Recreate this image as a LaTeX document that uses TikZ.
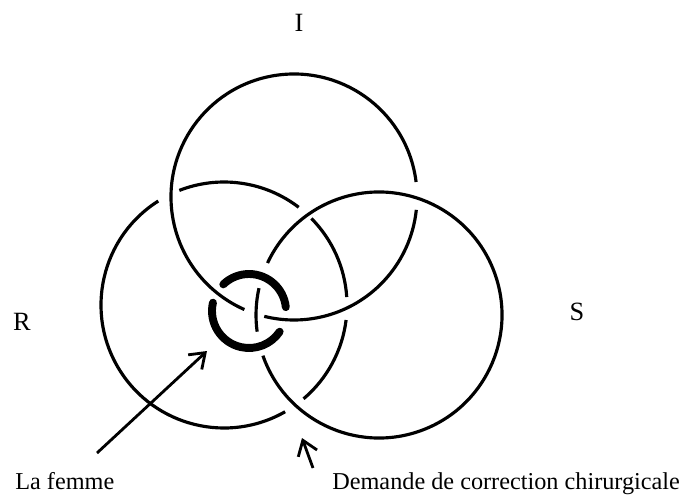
\documentclass[tikz,border=0pt]{standalone}
\usepackage{fontspec}
\setmainfont{Liberation Serif}
\usetikzlibrary{arrows.meta}

\begin{document}
\begin{tikzpicture}[x=0.02cm, y=0.02cm,
  every node/.style={font=\fontsize{13.8}{16}\selectfont, inner sep=0pt},
  letter/.style={font=\fontsize{15}{17}\selectfont},
  strand/.style={line width=1.8pt},
  ringline/.style={line width=4.5pt, line cap=round},
  pointer/.style={line width=1.6pt, -{Straight Barb[length=2.8mm,width=4mm]}}]
\useasboundingbox (0,0) rectangle (686,494);
% centres of the three rings and the knot
\coordinate (cI) at (294,297);
\coordinate (cR) at (224,189);
\coordinate (cS) at (379,179);
\coordinate (cK) at (249,183);
% R: under I and under S
\draw[strand] ([shift={(3.7:123)}]cR) arc[start angle=3.7, end angle=44.7, radius=123];
\draw[strand] ([shift={(52.6:123)}]cR) arc[start angle=52.6, end angle=111.3, radius=123];
\draw[strand] ([shift={(122.3:123)}]cR) arc[start angle=122.3, end angle=299.8, radius=123];
\draw[strand] ([shift={(-49.7:123)}]cR) arc[start angle=-49.7, end angle=-7, radius=123];
% I: under S
\draw[strand] ([shift={(7:123)}]cI) arc[start angle=7, end angle=246.2, radius=123];
\draw[strand] ([shift={(-104:123)}]cI) arc[start angle=-104, end angle=-6, radius=123];
% S: under the knot only
\draw[strand] ([shift={(199.3:123)}]cS) arc[start angle=199.3, end angle=515, radius=123];
\draw[strand] ([shift={(167.4:123)}]cS) arc[start angle=167.4, end angle=187.8, radius=123];
% the knot, cut where I goes over it
\draw[ringline] ([shift={(6:37)}]cK) arc[start angle=6, end angle=134, radius=37];
\draw[ringline] ([shift={(167:37)}]cK) arc[start angle=167, end angle=326, radius=37];
% labels
\node[letter] (lblI) at (299,471) {I};
\node[letter] (lblR) at (22,172) {R};
\node[letter] (lblS) at (577,182) {S};
\node[anchor=base west] (femme) at (15,5) {La femme};
\node[anchor=base west] (demande) at (332,5) {Demande de correction chirurgicale};
% arrows
\coordinate (femmeTail) at (97,41);
\coordinate (femmeTip) at (207,143);
\coordinate (demTail) at (313,26);
\coordinate (demTip) at (302,56);
\draw[pointer] (femmeTail) -- (femmeTip);
\draw[pointer] (demTail) -- (demTip);
\end{tikzpicture}
\end{document}
